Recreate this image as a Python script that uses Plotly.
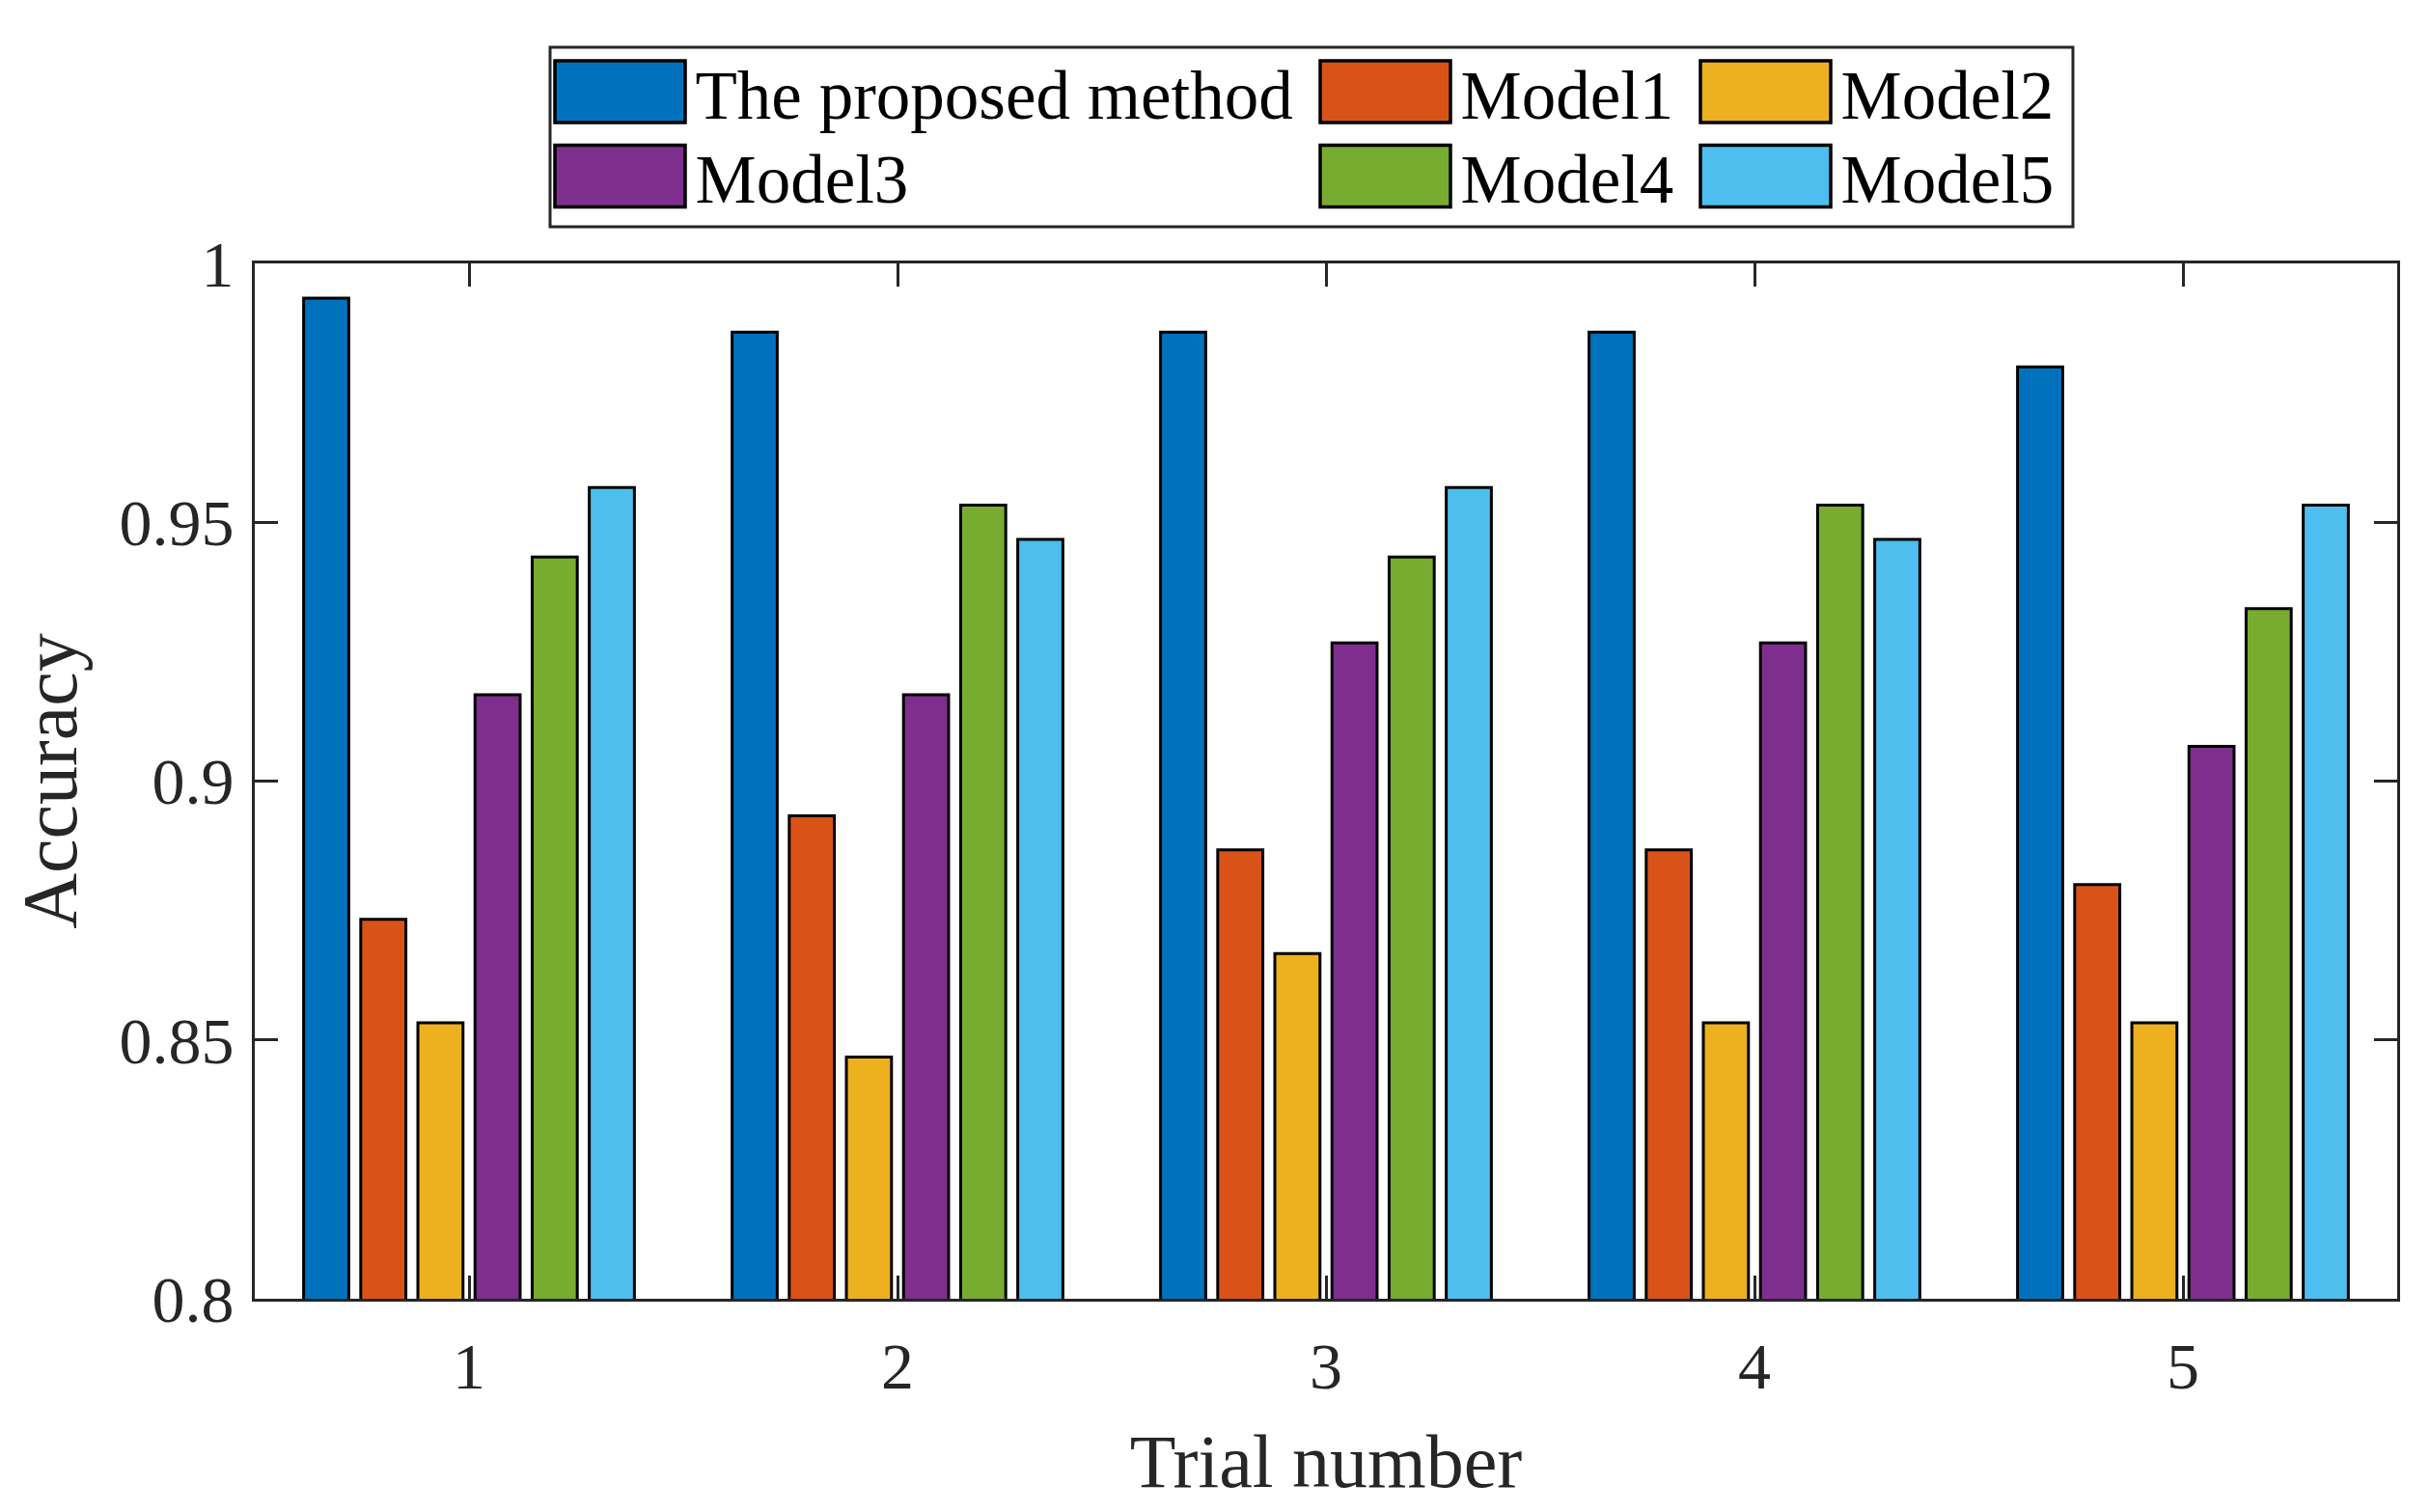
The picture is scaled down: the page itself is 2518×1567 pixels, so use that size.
import plotly.graph_objects as go

trials = [1, 2, 3, 4, 5]
tick_text = ["1", "2", "3", "4", "5"]
series_names = ["The proposed method", "Model1", "Model2", "Model3", "Model4", "Model5"]

proposed = [0.9933, 0.9867, 0.9867, 0.9867, 0.9800]
model1 = [0.8733, 0.8933, 0.8867, 0.8867, 0.8800]
model2 = [0.8533, 0.8467, 0.8667, 0.8533, 0.8533]
model3 = [0.9167, 0.9167, 0.9267, 0.9267, 0.9067]
model4 = [0.9433, 0.9533, 0.9433, 0.9533, 0.9333]
model5 = [0.9567, 0.9467, 0.9567, 0.9467, 0.9533]

y_ticks = [0.8, 0.85, 0.9, 0.95, 1.0]
y_tick_text = ["0.8", "0.85", "0.9", "0.95", "1"]

colors = ["#0072BD", "#D95319", "#EDB120", "#7E2F8E", "#77AC30", "#4DBEEE"]
all_series = [proposed, model1, model2, model3, model4, model5]

FONT = "Liberation Serif"
AX = "#262626"

W, H = 2518, 1567
ML, MR, MT, MB = 256, 42, 265, 229
PW, PH = W - ML - MR, H - MT - MB

def px_x(px):
    return (px - ML) / PW

def px_y(py):
    return 1 + (MT - py) / PH

# legend layout (pixel positions of the swatch left edges and row centres)
LEG_FS = 71
ITEMW = 146
col_left = [575, 1368, 1762]
row_center = [91, 178.5]
item_h = LEG_FS * 1.3 + 3
legend_ids = ["legend", "legend2", "legend3", "legend4", "legend5", "legend6"]

fig = go.Figure()
for name, vals, col, lg in zip(series_names, all_series, colors, legend_ids):
    fig.add_trace(go.Bar(
        x=trials, y=vals, name=name, legend=lg,
        marker=dict(color=col, line=dict(color="black", width=3)),
    ))

legends = {}
for i, lg in enumerate(legend_ids):
    r, c = divmod(i, 3)
    x0 = col_left[c] - ((ITEMW + 10) / 2 - 67.5) - 8
    top = row_center[r] - 5 - item_h / 2 - 4
    legends[lg] = dict(
        x=px_x(x0), y=px_y(top), orientation="v", xanchor="left", yanchor="top",
        bgcolor="rgba(0,0,0,0)", borderwidth=0,
        font=dict(family=FONT, size=LEG_FS, color="black"),
        itemwidth=ITEMW,
    )

fig.update_layout(
    width=W, height=H,
    margin=dict(l=ML, r=MR, t=MT, b=MB, autoexpand=False),
    paper_bgcolor="white", plot_bgcolor="white",
    barmode="group", bargap=0.2, bargroupgap=0.21,
    font=dict(family=FONT, color=AX),
    showlegend=True,
    xaxis=dict(
        range=[0.5, 5.5], tickmode="array", tickvals=trials, ticktext=tick_text,
        ticks="inside", ticklen=24, tickwidth=3, tickcolor=AX,
        showline=True, linecolor=AX, linewidth=3, mirror="ticks",
        showgrid=False, zeroline=False, automargin=False,
        ticklabelstandoff=8,
        tickfont=dict(family=FONT, size=68, color=AX),
        title=dict(text="Trial number", font=dict(family=FONT, size=78, color=AX), standoff=34),
    ),
    yaxis=dict(
        range=[0.8, 1.0], tickmode="array", tickvals=y_ticks, ticktext=y_tick_text,
        ticks="inside", ticklen=24, tickwidth=3, tickcolor=AX,
        showline=True, linecolor=AX, linewidth=3, mirror="ticks",
        showgrid=False, zeroline=False, automargin=False,
        ticklabelstandoff=5,
        tickfont=dict(family=FONT, size=68, color=AX),
        title=dict(text="Accuracy", font=dict(family=FONT, size=80, color=AX), standoff=19),
    ),
    shapes=[dict(type="rect", xref="paper", yref="paper",
                 x0=px_x(562), x1=px_x(2140), y0=px_y(227), y1=px_y(41),
                 line=dict(color=AX, width=3), fillcolor="rgba(0,0,0,0)", layer="above")],
)
fig.update_layout(**legends)

post = """
var gd = document.getElementById('{plot_id}');
function fixLegend(){
  gd.querySelectorAll('g.legendpoints path').forEach(function(p){
    p.setAttribute('d','M67.5,32H-67.5V-32H67.5Z');
    p.style.strokeWidth = '3.5px';
    p.style.stroke = 'black';
  });
}
fixLegend();
gd.on('plotly_afterplot', fixLegend);
"""

fig.write_html("out.html", post_script=post)
